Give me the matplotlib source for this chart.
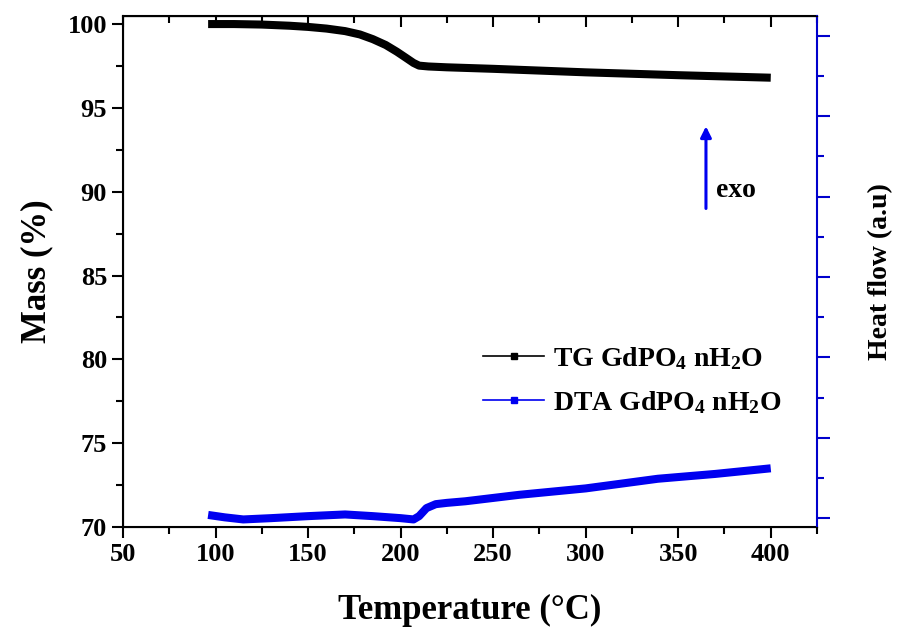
import matplotlib
matplotlib.use('Agg')
from matplotlib import pyplot as plt
from matplotlib.lines import Line2D
from matplotlib.ticker import MultipleLocator, NullFormatter
import numpy as np

# TG curve (mass %)
tg_temp = [96, 110, 125, 140, 150, 160, 170, 178, 185, 192, 198, 203, 207, 210,
           215, 225, 250, 300, 350, 400]
tg_mass = [100.0, 100.0, 99.97, 99.9, 99.83, 99.73, 99.58, 99.38, 99.1, 98.75,
           98.35, 97.98, 97.68, 97.52, 97.47, 97.42, 97.33, 97.12, 96.95, 96.8]

# DTA curve (heat flow, arbitrary units)
dta_temp = [96, 105, 115, 130, 150, 170, 185, 200, 207, 210, 214, 219, 225,
            235, 264, 300, 339, 370, 400]
dta_heat = [0.04, 0.01, -0.016, 0.0, 0.025, 0.046, 0.025, 0.0, -0.016, 0.025,
            0.125, 0.174, 0.19, 0.21, 0.29, 0.37, 0.49, 0.55, 0.62]

tg_label = r'TG GdPO$_4$ nH$_2$O'
dta_label = r'DTA GdPO$_4$ nH$_2$O'

plt.rcParams['font.family'] = ['Liberation Serif', 'DejaVu Serif']
plt.rcParams['font.weight'] = 'bold'
plt.rcParams['mathtext.fontset'] = 'custom'
plt.rcParams['mathtext.rm'] = 'Liberation Serif:bold'
plt.rcParams['mathtext.it'] = 'Liberation Serif:bold'
plt.rcParams['mathtext.bf'] = 'Liberation Serif:bold'
plt.rcParams['mathtext.default'] = 'rm'

fig = plt.figure(figsize=(8.99, 6.27), dpi=100)
ax = fig.add_axes([0.1368, 0.1595, 0.772, 0.8155])
ax2 = ax.twinx()

ax.plot(tg_temp, tg_mass, color='black', lw=5.8, solid_capstyle='butt')
ax2.plot(dta_temp, dta_heat, color='#0000f0', lw=5.8, solid_capstyle='butt')

ax.set_xlim(50, 425)
ax.set_ylim(70, 100.5)
ax2.set_ylim(-0.11, 6.25)

ax.xaxis.set_major_locator(MultipleLocator(50))
ax.xaxis.set_minor_locator(MultipleLocator(25))
ax.yaxis.set_major_locator(MultipleLocator(5))
ax.yaxis.set_minor_locator(MultipleLocator(2.5))
ax.tick_params(axis='both', which='major', direction='out', length=8, width=1.5,
               labelsize=19, top=False, right=False)
ax.tick_params(axis='both', which='minor', direction='out', length=5, width=1.5,
               top=False, right=False)

# top ticks pointing inside
axt = ax.secondary_xaxis('top')
axt.xaxis.set_major_locator(MultipleLocator(50))
axt.xaxis.set_minor_locator(MultipleLocator(25))
axt.xaxis.set_major_formatter(NullFormatter())
axt.tick_params(which='major', direction='in', length=8, width=1.5)
axt.tick_params(which='minor', direction='in', length=5, width=1.5)
axt.spines['top'].set_linewidth(1.5)

ax2.yaxis.set_major_locator(MultipleLocator(1))
ax2.yaxis.set_minor_locator(MultipleLocator(0.5))
ax2.yaxis.set_major_formatter(NullFormatter())
ax2.tick_params(axis='y', which='major', direction='out', length=9, width=1.5,
                color='#0000cc')
ax2.tick_params(axis='y', which='minor', direction='out', length=5, width=1.5,
                color='#0000cc')
ax2.spines['right'].set_color('#0000cc')
ax2.spines['right'].set_linewidth(1.5)
for s in ['left', 'bottom']:
    ax.spines[s].set_linewidth(1.5)
ax.spines['right'].set_visible(False)

ax.set_xlabel('Temperature (°C)', fontsize=25, fontweight='bold', labelpad=20)
ax.set_ylabel('Mass (%)', fontsize=25, fontweight='bold', labelpad=10)
ax2.set_ylabel('Heat flow (a.u)', fontsize=20, fontweight='bold', labelpad=24)

# exo arrow
arrow_x = 365
ax.annotate('', xy=(arrow_x, 93.9), xytext=(arrow_x, 89.0),
            arrowprops=dict(arrowstyle='-|>', color='#0000f0', lw=2.2,
                            mutation_scale=16, shrinkA=0, shrinkB=0))
ax.text(arrow_x + 5.5, 90.1, 'exo', fontsize=20, fontweight='bold', va='center')

handles = [Line2D([], [], color='black', lw=1.2, marker='s', markersize=4),
           Line2D([], [], color='#0000f0', lw=1.2, marker='s', markersize=4)]
ax.legend(handles, [tg_label, dta_label], loc='upper left',
          bbox_to_anchor=(0.483, 0.405), frameon=False, fontsize=20,
          handlelength=2.2, handletextpad=0.3, labelspacing=0.62)

plt.savefig('out.png', dpi=100)
